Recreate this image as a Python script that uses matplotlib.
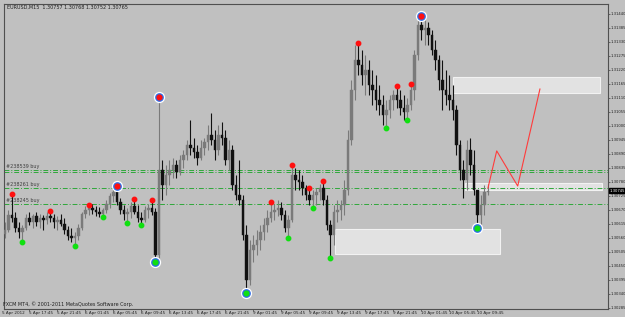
import matplotlib
matplotlib.use('Agg')
import matplotlib.pyplot as plt
from matplotlib.patches import Rectangle
import numpy as np

plt.rcParams['font.family'] = ['Liberation Sans Narrow', 'DejaVu Sans']

# ---------------- data (EURUSD M15, each candle here = 2 x M15 bars) ----------------
first_open = 1.30575
highs = [1.30623, 1.30670, 1.30733, 1.30662, 1.30623, 1.30611, 1.30654, 1.30662, 1.30654, 1.30662,
         1.30654, 1.30650, 1.30662, 1.30666, 1.30654, 1.30646, 1.30654, 1.30638, 1.30607, 1.30599,
         1.30583, 1.30615, 1.30662, 1.30685, 1.30689, 1.30693, 1.30685, 1.30681, 1.30678, 1.30709,
         1.30737, 1.30756, 1.30764, 1.30717, 1.30689, 1.30678, 1.30701, 1.30713, 1.30689, 1.30662,
         1.30685, 1.30693, 1.30709, 1.30678, 1.31114, 1.30866, 1.30847, 1.30866, 1.30874, 1.30866,
         1.30886, 1.30906, 1.30945, 1.31023, 1.30953, 1.30925, 1.30945, 1.30953, 1.31004, 1.31051,
         1.30984, 1.31004, 1.31016, 1.30984, 1.30945, 1.30925, 1.30807, 1.30866, 1.30729, 1.30611,
         1.30552, 1.30571, 1.30591, 1.30611, 1.30638, 1.30670, 1.30701, 1.30693, 1.30709, 1.30701,
         1.30670, 1.30650, 1.30847, 1.30835, 1.30827, 1.30807, 1.30768, 1.30756, 1.30748, 1.30756,
         1.30772, 1.30784, 1.30729, 1.30630, 1.30689, 1.30709, 1.30709, 1.30788, 1.30984, 1.31181,
         1.31318, 1.31326, 1.31299, 1.31279, 1.31259, 1.31220, 1.31200, 1.31161, 1.31122, 1.31102,
         1.31122, 1.31141, 1.31157, 1.31141, 1.31122, 1.31110, 1.31165, 1.31299, 1.31424, 1.31432,
         1.31416, 1.31409, 1.31377, 1.31338, 1.31279, 1.31259, 1.31220, 1.31200, 1.31161, 1.31082,
         1.30945, 1.30866, 1.30945, 1.30953, 1.30906, 1.30748, 1.30729, 1.30768, 1.30772]
lows = [1.30560, 1.30583, 1.30623, 1.30583, 1.30560, 1.30544, 1.30591, 1.30611, 1.30599, 1.30607,
        1.30599, 1.30591, 1.30615, 1.30623, 1.30599, 1.30591, 1.30607, 1.30575, 1.30552, 1.30544,
        1.30528, 1.30552, 1.30591, 1.30638, 1.30650, 1.30654, 1.30646, 1.30642, 1.30642, 1.30658,
        1.30678, 1.30701, 1.30689, 1.30654, 1.30630, 1.30619, 1.30638, 1.30654, 1.30623, 1.30611,
        1.30623, 1.30638, 1.30650, 1.30465, 1.30481, 1.30709, 1.30729, 1.30768, 1.30795, 1.30795,
        1.30807, 1.30835, 1.30866, 1.30886, 1.30874, 1.30847, 1.30866, 1.30886, 1.30906, 1.30925,
        1.30866, 1.30886, 1.30925, 1.30847, 1.30827, 1.30748, 1.30709, 1.30689, 1.30552, 1.30344,
        1.30375, 1.30465, 1.30493, 1.30513, 1.30552, 1.30583, 1.30623, 1.30630, 1.30646, 1.30630,
        1.30583, 1.30560, 1.30623, 1.30748, 1.30748, 1.30729, 1.30709, 1.30689, 1.30678, 1.30689,
        1.30709, 1.30689, 1.30591, 1.30481, 1.30532, 1.30623, 1.30630, 1.30650, 1.30729, 1.30925,
        1.31102, 1.31200, 1.31161, 1.31122, 1.31122, 1.31082, 1.31063, 1.31043, 1.31004, 1.30992,
        1.31031, 1.31063, 1.31071, 1.31043, 1.31023, 1.31023, 1.31063, 1.31102, 1.31259, 1.31338,
        1.31318, 1.31318, 1.31279, 1.31220, 1.31141, 1.31063, 1.31082, 1.31063, 1.31023, 1.30886,
        1.30788, 1.30717, 1.30748, 1.30807, 1.30729, 1.30599, 1.30611, 1.30650, 1.30729]
closes = [1.30591, 1.30650, 1.30638, 1.30599, 1.30583, 1.30599, 1.30638, 1.30623, 1.30646, 1.30623,
          1.30638, 1.30630, 1.30646, 1.30638, 1.30623, 1.30630, 1.30615, 1.30591, 1.30568, 1.30560,
          1.30568, 1.30599, 1.30654, 1.30670, 1.30678, 1.30670, 1.30662, 1.30654, 1.30670, 1.30693,
          1.30725, 1.30740, 1.30701, 1.30670, 1.30654, 1.30662, 1.30685, 1.30662, 1.30638, 1.30630,
          1.30670, 1.30678, 1.30662, 1.30493, 1.30827, 1.30768, 1.30807, 1.30827, 1.30847, 1.30819,
          1.30866, 1.30886, 1.30925, 1.30913, 1.30898, 1.30874, 1.30913, 1.30937, 1.30964, 1.30945,
          1.30906, 1.30964, 1.30953, 1.30866, 1.30906, 1.30768, 1.30729, 1.30709, 1.30571, 1.30395,
          1.30513, 1.30532, 1.30552, 1.30583, 1.30611, 1.30638, 1.30662, 1.30670, 1.30678, 1.30650,
          1.30599, 1.30630, 1.30807, 1.30788, 1.30780, 1.30756, 1.30729, 1.30709, 1.30729, 1.30740,
          1.30756, 1.30709, 1.30611, 1.30571, 1.30662, 1.30670, 1.30689, 1.30748, 1.30945, 1.31141,
          1.31259, 1.31240, 1.31200, 1.31220, 1.31161, 1.31141, 1.31102, 1.31082, 1.31043, 1.31063,
          1.31102, 1.31122, 1.31102, 1.31071, 1.31055, 1.31082, 1.31141, 1.31279, 1.31397, 1.31377,
          1.31385, 1.31357, 1.31299, 1.31259, 1.31181, 1.31141, 1.31122, 1.31102, 1.31063, 1.30925,
          1.30827, 1.30788, 1.30906, 1.30847, 1.30748, 1.30650, 1.30689, 1.30740, 1.30744]

# fractal-style markers (candle indices)
red_idx = [2, 13, 24, 37, 42, 76, 82, 87, 91, 101, 112, 116]
green_idx = [5, 20, 28, 35, 39, 81, 88, 93, 109, 115]
major_high_idx = [32, 44, 119]
major_low_idx = [43, 69, 135]

# order lines
order_prices = [1.30827, 1.30819, 1.30756, 1.30693]
order_labels = ["#238539 buy", "", "#238261 buy", "#238245 buy"]

# zones: (start bar, end bar, low price, high price)
zones = [(256, 340, 1.31130, 1.31192),
         (188.5, 283, 1.30497, 1.30595),
         (263, 341, 1.30748, 1.30776)]

# projected path
zig_bars = [276, 281, 293, 305.7]
zig_prices = [1.30756, 1.30902, 1.30764, 1.31145]

# axis
y_ticks = [round(1.30285 + 0.00055 * k, 5) for k in range(22)]
x_tick_bars = [14 + 16 * j for j in range(17)]
x_tick_labels = ["5 Apr 17:45", "5 Apr 21:45", "6 Apr 01:45", "6 Apr 05:45", "6 Apr 09:45",
                 "6 Apr 13:45", "6 Apr 17:45", "6 Apr 21:45", "9 Apr 01:45", "9 Apr 05:45",
                 "9 Apr 09:45", "9 Apr 13:45", "9 Apr 17:45", "9 Apr 21:45", "10 Apr 01:45",
                 "10 Apr 05:45", "10 Apr 09:45"]
last_price = 1.30745
header = "EURUSD,M15  1.30757 1.30768 1.30752 1.30765"

# ---------------- plotting ----------------
BG = '#c0c0c0'
FS = 3.5
TFS = 3.0
YFS = 2.7
fig = plt.figure(figsize=(6.25, 3.17), dpi=100, facecolor=BG)
ax = fig.add_axes([4 / 625, 8 / 317, 604 / 625, 305 / 317])
ax.set_facecolor(BG)

highs = np.array(highs); lows = np.array(lows); closes = np.array(closes)
opens = np.concatenate([[first_open], closes[:-1]])
xb = np.arange(len(closes)) * 2.0

for (b0, b1, lo, hi) in zones:
    ax.add_patch(Rectangle((b0, lo), b1 - b0, hi - lo, facecolor='#e2e2e2',
                           edgecolor='#f2f2f2', lw=0.8, zorder=1))

for p in order_prices:
    ax.axhline(p, color='#2fa83a', lw=0.7, ls=(0, (5, 2, 1, 2)), zorder=2)
for p, lab in zip(order_prices, order_labels):
    if lab:
        ax.text(0.5, p + 0.00004, lab, fontsize=FS, color='#404040', va='bottom', ha='left', zorder=2)

up = closes >= opens
col = np.where(up, '#7a7a7a', '#111111')
ax.vlines(xb, lows, highs, colors=col, lw=0.8, zorder=3)
body_lo = np.minimum(opens, closes)
body_h = np.maximum(np.abs(closes - opens), 0.00002)
ax.bar(xb, body_h, bottom=body_lo, width=1.3, color=col, edgecolor=col, lw=0.3, zorder=4)

ax.plot(zig_bars, zig_prices, color='#ff3b3b', lw=0.8, zorder=5)

ax.plot(xb[red_idx], highs[red_idx], 'o', ms=3.2, color='#ff1010', mec='#ff1010', zorder=6)
ax.plot(xb[green_idx], lows[green_idx], 'o', ms=3.2, color='#10e010', mec='#10e010', zorder=6)
for idx, arr, c in [(major_high_idx, highs, '#ff1010'), (major_low_idx, lows, '#10e010')]:
    ax.plot(xb[idx], arr[idx], 'o', ms=7.2, color='#2f6fe8', mec='white', mew=0.9, zorder=6)
    ax.plot(xb[idx], arr[idx], 'o', ms=3.4, color=c, mec=c, zorder=7)

ax.set_xlim(-0.57, 344.6)
ax.set_ylim(1.30281, 1.31479)

ax.yaxis.tick_right()
ax.set_yticks(y_ticks)
ax.set_yticklabels([f"{v:.5f}" for v in y_ticks], fontsize=YFS, color='#202020')
ax.set_xticks(x_tick_bars)
ax.set_xticklabels(x_tick_labels, fontsize=TFS, color='#202020', ha='left')
ax.tick_params(axis='both', length=1.2, width=0.5, color='#404040', pad=0.5)

for s in ax.spines.values():
    s.set_color('#505050')
    s.set_linewidth(0.8)

ax.text(1.0025, last_price, f"{last_price:.5f}", transform=ax.get_yaxis_transform(),
        fontsize=YFS, color='white', va='center', ha='left',
        bbox=dict(facecolor='black', edgecolor='black', pad=0.3), zorder=10)

fig.text(2 / 625, 1 - 313 / 317, "5 Apr 2012", fontsize=TFS, color='#202020', va='center', ha='left')
fig.text(7 / 625, 1 - 7 / 317, header, fontsize=FS, color='#202020', va='center', ha='left')
fig.text(3 / 625, 1 - 304 / 317, "FXCM MT4, \u00a9 2001-2011 MetaQuotes Software Corp.",
         fontsize=FS, color='#202020', va='center', ha='left')

fig.savefig('out.png', dpi=100, facecolor=BG)
